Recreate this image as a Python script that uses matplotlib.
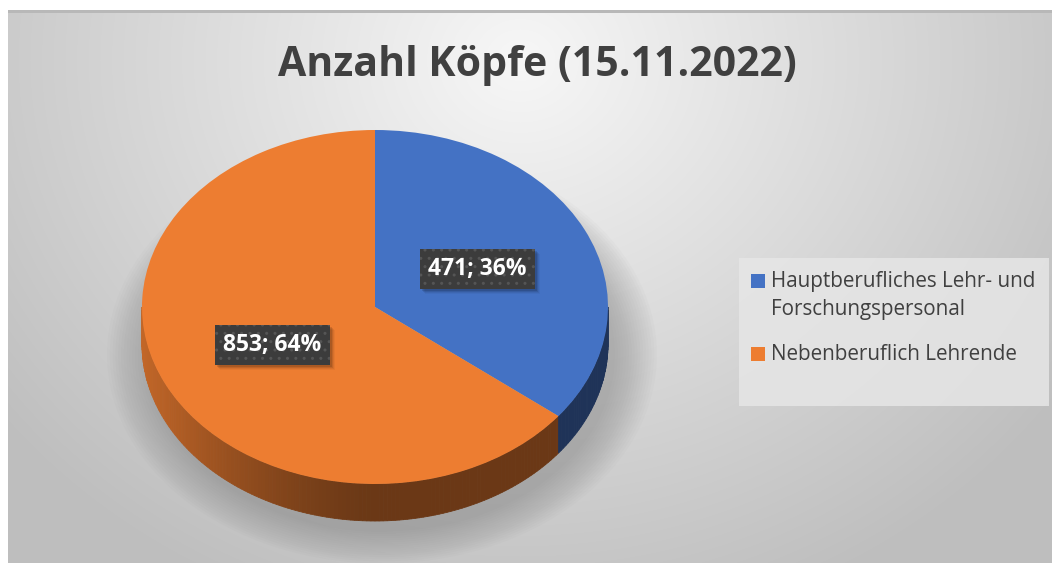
import numpy as np
import matplotlib
matplotlib.use("Agg")
import matplotlib.pyplot as plt
from matplotlib.patches import Rectangle, Ellipse, Polygon
from matplotlib.transforms import IdentityTransform

# ---- data ----
title = "Anzahl Köpfe (15.11.2022)"
categories = ["Hauptberufliches Lehr- und\nForschungspersonal", "Nebenberuflich Lehrende"]
values = [471, 853]
colors = ["#4472C4", "#ED7D31"]

W, H = 1052, 563
fig = plt.figure(figsize=(W / 100, H / 100), dpi=100)
fig.patch.set_facecolor("white")

# ---- background axes in pixel coords ----
bg = fig.add_axes([0, 0, 1, 1])
bg.set_xlim(0, W)
bg.set_ylim(H, 0)
bg.axis("off")
x0, y0 = 8, 10
yy, xx = np.mgrid[y0:H, x0:W]
r = np.sqrt(((xx - 520) / 700.0) ** 2 + ((yy - 60) / 620.0) ** 2)
val = np.clip(247 - 60 * r, 190, 250) / 255.0
img = np.dstack([val, val, val])
bg.imshow(img, extent=(x0, W, H, y0), interpolation="bilinear", zorder=0, aspect="auto")
bg.add_patch(Rectangle((x0, y0), W - x0, 3, color="#b8b8b8", lw=0, zorder=1))

# legend box
bg.add_patch(Rectangle((739, 258), 310, 148, facecolor="#e6e6e6", alpha=0.85, lw=0, zorder=1))

# title
bg.text(537, 66, title, ha="center", va="center", fontsize=29.5, fontweight="bold",
        color="#404040", family=["Open Sans", "DejaVu Sans"], zorder=2)

# legend entries
leg_y = [281, 354]
for c, lab, ly in zip(colors, categories, leg_y):
    bg.add_patch(Rectangle((751, ly - 7), 14, 14, facecolor=c, lw=0, zorder=3))
    bg.text(771, ly - 10, lab, ha="left", va="top", fontsize=14.9, color="#404040",
            family=["Open Sans", "DejaVu Sans"], linespacing=1.42, zorder=3)

# ---- pie axes: unit circle mapped to ellipse ----
cx, cy, ax_r, bx_r = 375, 307, 233, 177
depth = 37 / bx_r
ax = fig.add_axes([0, 0, 1, 1])
ax.patch.set_alpha(0)

total = sum(values)
wedges, texts, autotexts = ax.pie(
    values, colors=colors, startangle=90, counterclock=False, radius=1.0,
    autopct=lambda p: f"{round(p * total / 100)}; {p:.0f}%", pctdistance=0.49,
    wedgeprops=dict(linewidth=0, zorder=5), textprops=dict(zorder=8))
ax.set_aspect("auto")
ax.set_xlim((0 - cx) / ax_r, (W - cx) / ax_r)
ax.set_ylim((cy - H) / bx_r, cy / bx_r)
ax.axis("off")

# shadow under the pie
for k in range(16):
    s = 1.0 + 0.012 * k
    ax.add_patch(Ellipse((0.03, -depth - 0.06), 2 * s, 2 * s, facecolor="#808080",
                         alpha=0.035, lw=0, zorder=1))

# side rim (front half), shading by angle
bound = 90 - 360 * values[0] / total  # blue/orange boundary angle (deg)
ts = np.linspace(180, 360, 181)
for t1, t2 in zip(ts[:-1], ts[1:]):
    tm = 0.5 * (t1 + t2)
    is_blue = tm > bound + 360
    base = np.array(matplotlib.colors.to_rgb(colors[0] if is_blue else colors[1]))
    f = 0.45 + 0.37 * max(0.0, -np.cos(np.radians(tm))) ** 1.4
    col = base * f
    a1, a2 = np.radians(t1), np.radians(t2)
    poly = [(np.cos(a1), np.sin(a1)), (np.cos(a2), np.sin(a2)),
            (np.cos(a2), np.sin(a2) - depth), (np.cos(a1), np.sin(a1) - depth)]
    ax.add_patch(Polygon(poly, closed=True, facecolor=col, edgecolor=col, lw=0.6, zorder=3))

# data labels
for t in autotexts:
    t.set_color("white")
    t.set_fontsize(16.5)
    t.set_fontweight("bold")
    t.set_family(["Open Sans", "DejaVu Sans"])
    t.set_bbox(dict(boxstyle="square,pad=0.36", facecolor="#3c3c3c", edgecolor="#555555",
                    linewidth=0, hatch=".."))

# drop shadows of label boxes (from rendered box extents), between wedges and labels
fig.canvas.draw()
for t in autotexts:
    bb = t.get_bbox_patch().get_window_extent()
    for k, a in enumerate([0.12, 0.09, 0.06, 0.04]):
        d = 2 + k
        shadow = Rectangle((bb.x0 + d, bb.y0 - d), bb.width, bb.height,
                           transform=IdentityTransform(), facecolor="black", alpha=a,
                           lw=0, zorder=7)
        ax.add_artist(shadow)

fig.savefig("out.png", dpi=100)
